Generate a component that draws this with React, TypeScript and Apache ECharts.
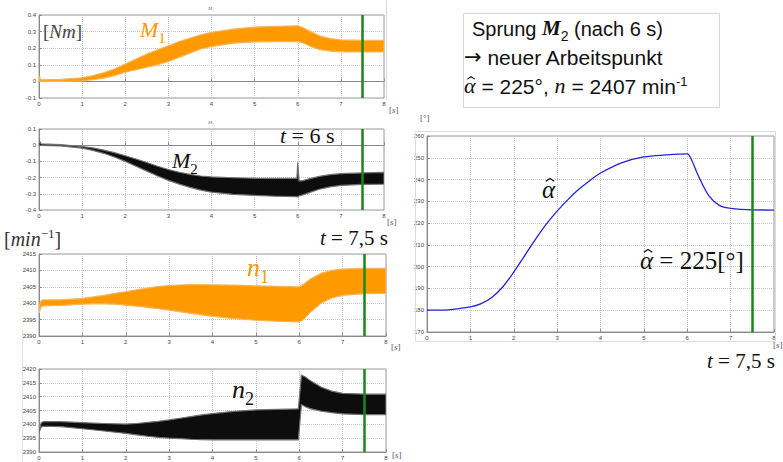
import React, { useEffect, useRef } from 'react';
import * as echarts from 'echarts';

// ---- data ----
const X_TICKS = [0, 1, 2, 3, 4, 5, 6, 7, 8];
const MARK_T = 7.5;

const T_M1 = [0, 0.05, 0.5, 1, 1.25, 1.5, 1.75, 2, 2.25, 2.5, 2.75, 3, 3.25, 3.5, 3.75, 4, 4.5, 5, 5.5, 6, 6.15, 6.3, 6.5, 6.75, 7, 7.5, 8];
const M1_HI = [0.03, 0.01, 0.012, 0.022, 0.035, 0.052, 0.075, 0.105, 0.135, 0.165, 0.19, 0.215, 0.24, 0.26, 0.28, 0.295, 0.315, 0.327, 0.332, 0.335, 0.32, 0.3, 0.275, 0.258, 0.25, 0.247, 0.247];
const M1_LO = [0, 0, 0, 0.003, 0.01, 0.02, 0.035, 0.055, 0.07, 0.085, 0.1, 0.12, 0.145, 0.17, 0.195, 0.21, 0.23, 0.238, 0.24, 0.24, 0.23, 0.21, 0.192, 0.182, 0.178, 0.177, 0.177];

const T_M2 = [0, 0.05, 0.5, 1, 1.25, 1.5, 1.75, 2, 2.25, 2.5, 2.75, 3, 3.25, 3.5, 3.75, 4, 4.5, 5, 5.5, 5.98, 6.0, 6.03, 6.1, 6.3, 6.5, 6.75, 7, 7.5, 8];
const M2_HI = [0.03, 0.008, 0.003, -0.008, -0.017, -0.03, -0.046, -0.065, -0.085, -0.107, -0.13, -0.15, -0.167, -0.18, -0.19, -0.196, -0.201, -0.204, -0.205, -0.205, -0.105, -0.22, -0.22, -0.205, -0.192, -0.182, -0.176, -0.171, -0.168];
const M2_LO = [-0.002, -0.002, -0.005, -0.018, -0.032, -0.05, -0.073, -0.1, -0.13, -0.16, -0.19, -0.217, -0.24, -0.26, -0.277, -0.29, -0.303, -0.31, -0.315, -0.318, -0.32, -0.313, -0.308, -0.29, -0.272, -0.257, -0.248, -0.242, -0.24];

const T_N1 = [0, 0.05, 0.1, 0.5, 1, 1.25, 1.5, 1.75, 2, 2.25, 2.5, 2.75, 3, 3.5, 4, 4.5, 5, 5.5, 6, 6.1, 6.25, 6.5, 6.75, 7, 7.5, 8];
const N1_HI = [2399, 2400.8, 2401, 2401, 2401.5, 2401.9, 2402.4, 2403, 2403.5, 2404.1, 2404.6, 2405.1, 2405.4, 2405.7, 2405.6, 2405.5, 2405.3, 2405.1, 2405, 2405.8, 2407.3, 2409.1, 2410, 2410.4, 2410.6, 2410.6];
const N1_LO = [2397, 2399, 2399.2, 2399.3, 2399.7, 2399.8, 2399.8, 2399.7, 2399.4, 2399.1, 2398.7, 2398.3, 2397.9, 2396.9, 2396, 2395.3, 2394.8, 2394.5, 2394.3, 2395, 2397.2, 2400, 2401.6, 2402.4, 2402.9, 2403];

const T_N2 = [0, 0.05, 0.1, 0.5, 1, 1.5, 2, 2.25, 2.5, 2.75, 3, 3.25, 3.5, 3.75, 4, 4.5, 5, 5.5, 5.98, 6.05, 6.15, 6.25, 6.5, 6.75, 7, 7.5, 8];
const N2_HI = [2397.5, 2400.5, 2401, 2401, 2400.6, 2400.3, 2400.1, 2400.3, 2400.7, 2401.1, 2401.6, 2402.2, 2402.8, 2403.4, 2403.9, 2404.7, 2405.2, 2405.4, 2405.6, 2417.8, 2417, 2415.8, 2413.5, 2412, 2411.2, 2410.9, 2410.9];
const N2_LO = [2397, 2399, 2399.3, 2399.2, 2398.4, 2397.6, 2396.7, 2396.2, 2395.7, 2395.3, 2395, 2394.8, 2394.6, 2394.5, 2394.4, 2394.4, 2394.4, 2394.4, 2394.4, 2407.2, 2406.3, 2405.7, 2404.8, 2404.2, 2403.8, 2403.5, 2403.5];

const T_A = [0, 0.5, 1, 1.25, 1.5, 1.75, 2, 2.25, 2.5, 2.75, 3, 3.25, 3.5, 3.75, 4, 4.5, 5, 5.5, 6, 6.1, 6.25, 6.5, 6.75, 7, 7.5, 8];
const ALPHA = [180, 180.2, 181.5, 183, 186, 190.8, 197.5, 205, 212.5, 219.5, 225.5, 230.8, 235.5, 239.5, 243, 247.8, 250.4, 251.3, 251.8, 249, 242, 232.5, 228, 226.8, 226.1, 226];

const Y_SPECS = [
  { min: -0.1, max: 0.4, interval: 0.1 },
  { min: -0.4, max: 0.1, interval: 0.1 },
  { min: 2390, max: 2415, interval: 5 },
  { min: 2390, max: 2420, interval: 5 },
  { min: 170, max: 260, interval: 10 },
];

const ORANGE = '#ff9900';
const ORANGE_EDGE = '#f7b558';
const BLACK = '#0d0d0d';
const BLACK_EDGE = '#707070';
const GREEN = '#168a16';
const SERIF = 'Liberation Serif';
const SANS = 'Liberation Sans';

const GRIDS = [
  { left: 39, top: 15, width: 345, height: 83 },
  { left: 39, top: 129, width: 345, height: 81 },
  { left: 39, top: 254, width: 347, height: 82 },
  { left: 39, top: 369, width: 347, height: 83 },
  { left: 427, top: 136, width: 347, height: 196 },
];

const markLine = {
  silent: true,
  symbol: 'none',
  label: { show: false },
  lineStyle: { color: GREEN, width: 2.5, type: 'solid' },
  data: [{ xAxis: MARK_T }],
};

function band(idx: number, t: number[], lo: number[], hi: number[], fill: string, edge: string) {
  return {
    type: 'custom', xAxisIndex: idx, yAxisIndex: idx, clip: true, z: 3,
    data: t.map((x, i) => [x, lo[i], hi[i]]),
    encode: { x: 0, y: [1, 2] },
    renderItem: (params: any, api: any) => {
      if (params.dataIndex !== 0) return null;
      const pts: number[][] = [];
      for (let i = 0; i < t.length; i++) pts.push(api.coord([t[i], hi[i]]));
      for (let i = t.length - 1; i >= 0; i--) pts.push(api.coord([t[i], lo[i]]));
      return { type: 'polygon', shape: { points: pts }, style: { fill, stroke: edge, lineWidth: 1.2 } };
    },
    markLine,
  };
}

// ---- text helpers ----
let _ctx: CanvasRenderingContext2D | null = null;
function measure(text: string, font: string) {
  if (!_ctx) _ctx = document.createElement('canvas').getContext('2d');
  if (!_ctx) return text.length * 8;
  _ctx.font = font;
  return _ctx.measureText(text).width;
}
type Piece = { t: string; size: number; family?: string; italic?: boolean; bold?: boolean; dy?: number; color?: string; hat?: boolean };
function seq(x0: number, baseline: number, pieces: Piece[], color: string): any[] {
  const out: any[] = [];
  let x = x0;
  for (const p of pieces) {
    const fam = p.family || SERIF;
    const font = `${p.italic ? 'italic ' : ''}${p.bold ? 'bold ' : ''}${p.size}px "${fam}"`;
    const w = measure(p.t, font);
    const fill = p.color || color;
    out.push({
      type: 'text', x, y: baseline - p.size * 0.32 + (p.dy || 0), z: 60,
      style: { text: p.t, font, fill, verticalAlign: 'middle', align: 'left' },
    });
    if (p.hat) {
      const cx = x + w / 2 + (p.italic ? p.size * 0.06 : 0);
      const top = baseline - p.size * 0.74;
      const hw = p.size * 0.17;
      out.push({
        type: 'polyline', z: 60,
        shape: { points: [[cx - hw, top + p.size * 0.11], [cx, top], [cx + hw, top + p.size * 0.11]] },
        style: { stroke: fill, lineWidth: Math.max(1, p.size * 0.05), fill: 'none' },
      });
    }
    x += w;
  }
  return out;
}
const I = (t: string, size: number, extra: Partial<Piece> = {}): Piece => ({ t, size, italic: true, ...extra });
const R = (t: string, size: number, extra: Partial<Piece> = {}): Piece => ({ t, size, ...extra });
const SUB = (t: string, size: number, extra: Partial<Piece> = {}): Piece => ({ t, size: Math.round(size * 0.68), dy: size * 0.26, ...extra });
const SUP = (t: string, size: number, extra: Partial<Piece> = {}): Piece => ({ t, size: Math.round(size * 0.64), dy: -size * 0.36, ...extra });

export default function App() {
  const ref = useRef<HTMLDivElement>(null);
  useEffect(() => {
    if (!ref.current) return;
    const chart = echarts.init(ref.current, undefined, { renderer: 'svg' });

    const axisCommon = {
      axisLine: { show: true, lineStyle: { color: '#8a8a8a' } },
      axisTick: { show: true, inside: true, length: 3, lineStyle: { color: '#8a8a8a' } },
      splitLine: { show: true, lineStyle: { type: 'dotted', color: '#c4c4c4' } },
    };
    const xAxis = GRIDS.map((_, i) => ({
      gridIndex: i, type: 'value', min: X_TICKS[0], max: X_TICKS[X_TICKS.length - 1], interval: 1,
      ...axisCommon,
      axisLabel: { fontSize: 6, color: '#444', margin: 3, fontFamily: SANS },
    }));
    const yAxis = Y_SPECS.map((s, i) => ({
      gridIndex: i, type: 'value', min: s.min, max: s.max, interval: s.interval,
      ...axisCommon,
      axisLabel: {
        fontSize: 6, color: '#444', margin: 3, fontFamily: SANS,
        formatter: (v: number) => String(Math.round(v * 1000) / 1000),
      },
    }));

    const series: any[] = [
      band(0, T_M1, M1_LO, M1_HI, ORANGE, ORANGE_EDGE),
      band(1, T_M2, M2_LO, M2_HI, BLACK, BLACK_EDGE),
      band(2, T_N1, N1_LO, N1_HI, ORANGE, ORANGE_EDGE),
      band(3, T_N2, N2_LO, N2_HI, BLACK, BLACK_EDGE),
      {
        type: 'line', name: 'alpha', xAxisIndex: 4, yAxisIndex: 4, symbol: 'none', smooth: 0.35,
        data: T_A.map((x, i) => [x, ALPHA[i]]),
        lineStyle: { color: '#2323d8', width: 1.3 },
        markLine,
        z: 3,
      },
    ];

    const unit = (x: number, base: number, u: string, italic = true) =>
      seq(x, base, [R('[', 9), italic ? I(u, 9) : R(u, 9), R(']', 9)], '#556');

    const graphic: any[] = [
      // figure borders
      { type: 'line', shape: { x1: 386.5, y1: 0, x2: 386.5, y2: 100 }, style: { stroke: '#dcdcdc', lineWidth: 1 }, z: 1 },
      { type: 'line', shape: { x1: 22.5, y1: 330, x2: 22.5, y2: 462 }, style: { stroke: '#e2e2e2', lineWidth: 1 }, z: 1 },
      { type: 'rect', shape: { x: 415.5, y: 131.5, width: 360, height: 210 }, style: { stroke: '#dcdcdc', fill: 'none', lineWidth: 1 }, z: 1 },
      // tiny subplot titles
      ...seq(208, 10, [I('M', 5), SUB('1', 5)], '#777'),
      ...seq(208, 124, [I('M', 5), SUB('2', 5)], '#777'),
      // left annotations
      ...seq(43, 38, [R('[', 19), I('Nm', 19), R(']', 19)], '#444'),
      ...seq(140, 37, [I('M', 22), SUB('1', 22)], ORANGE),
      ...seq(280, 143, [I('t', 22), R(' = 6 s', 22)], '#111'),
      ...seq(172, 168, [I('M', 22), SUB('2', 22)], '#111'),
      ...seq(4, 245, [R('[', 20), I('min', 20), SUP('−1', 20), R(']', 20)], '#333'),
      ...seq(320, 245, [I('t', 21), R(' = 7,5 s', 21)], '#111'),
      ...seq(247, 276, [I('n', 26), SUB('1', 26)], ORANGE),
      ...seq(232, 398, [I('n', 26), SUB('2', 26)], '#111'),
      // unit labels
      ...unit(389, 113, 's'),
      ...unit(387, 225, 's'),
      ...unit(391, 350, 's'),
      ...unit(392, 458, 's'),
      ...unit(773, 348, 's'),
      ...unit(420, 121, '°', false),
      // right annotations
      ...seq(542, 197, [I('α', 25, { hat: true })], '#111'),
      ...seq(640, 268, [I('α', 25, { hat: true }), R(' = 225[°]', 25)], '#111'),
      ...seq(707, 368, [I('t', 21), R(' = 7,5 s', 21)], '#111'),
      // text box
      { type: 'rect', shape: { x: 463.5, y: 13.5, width: 256, height: 94 }, style: { stroke: '#d6d6d6', fill: '#fff', lineWidth: 1 }, z: 40 },
      ...seq(472, 35, [
        R('Sprung ', 20, { family: SANS }),
        I('M', 21, { bold: true }),
        SUB('2', 20, { family: SANS }),
        R(' (nach 6 s)', 20, { family: SANS }),
      ], '#111'),
      ...seq(464, 64, [
        R('→', 21, { family: 'DejaVu Sans' }),
        R(' neuer Arbeitspunkt', 21, { family: SANS }),
      ], '#111'),
      ...seq(464, 93, [
        I('α', 22, { hat: true }),
        R(' = 225°, ', 21, { family: SANS }),
        I('n', 22),
        R(' = 2407 min', 21, { family: SANS }),
        SUP('-1', 21, { family: SANS }),
      ], '#111'),
    ];

    chart.setOption({
      animation: false,
      backgroundColor: '#fff',
      grid: GRIDS.map((g) => ({ ...g, show: true, borderColor: '#9a9a9a', borderWidth: 1, backgroundColor: '#fff', containLabel: false })),
      xAxis,
      yAxis,
      series,
      graphic,
    });
    return () => chart.dispose();
  }, []);
  return <div ref={ref} style={{ position: 'fixed', left: 0, top: 0, width: 783, height: 462 }} />;
}
